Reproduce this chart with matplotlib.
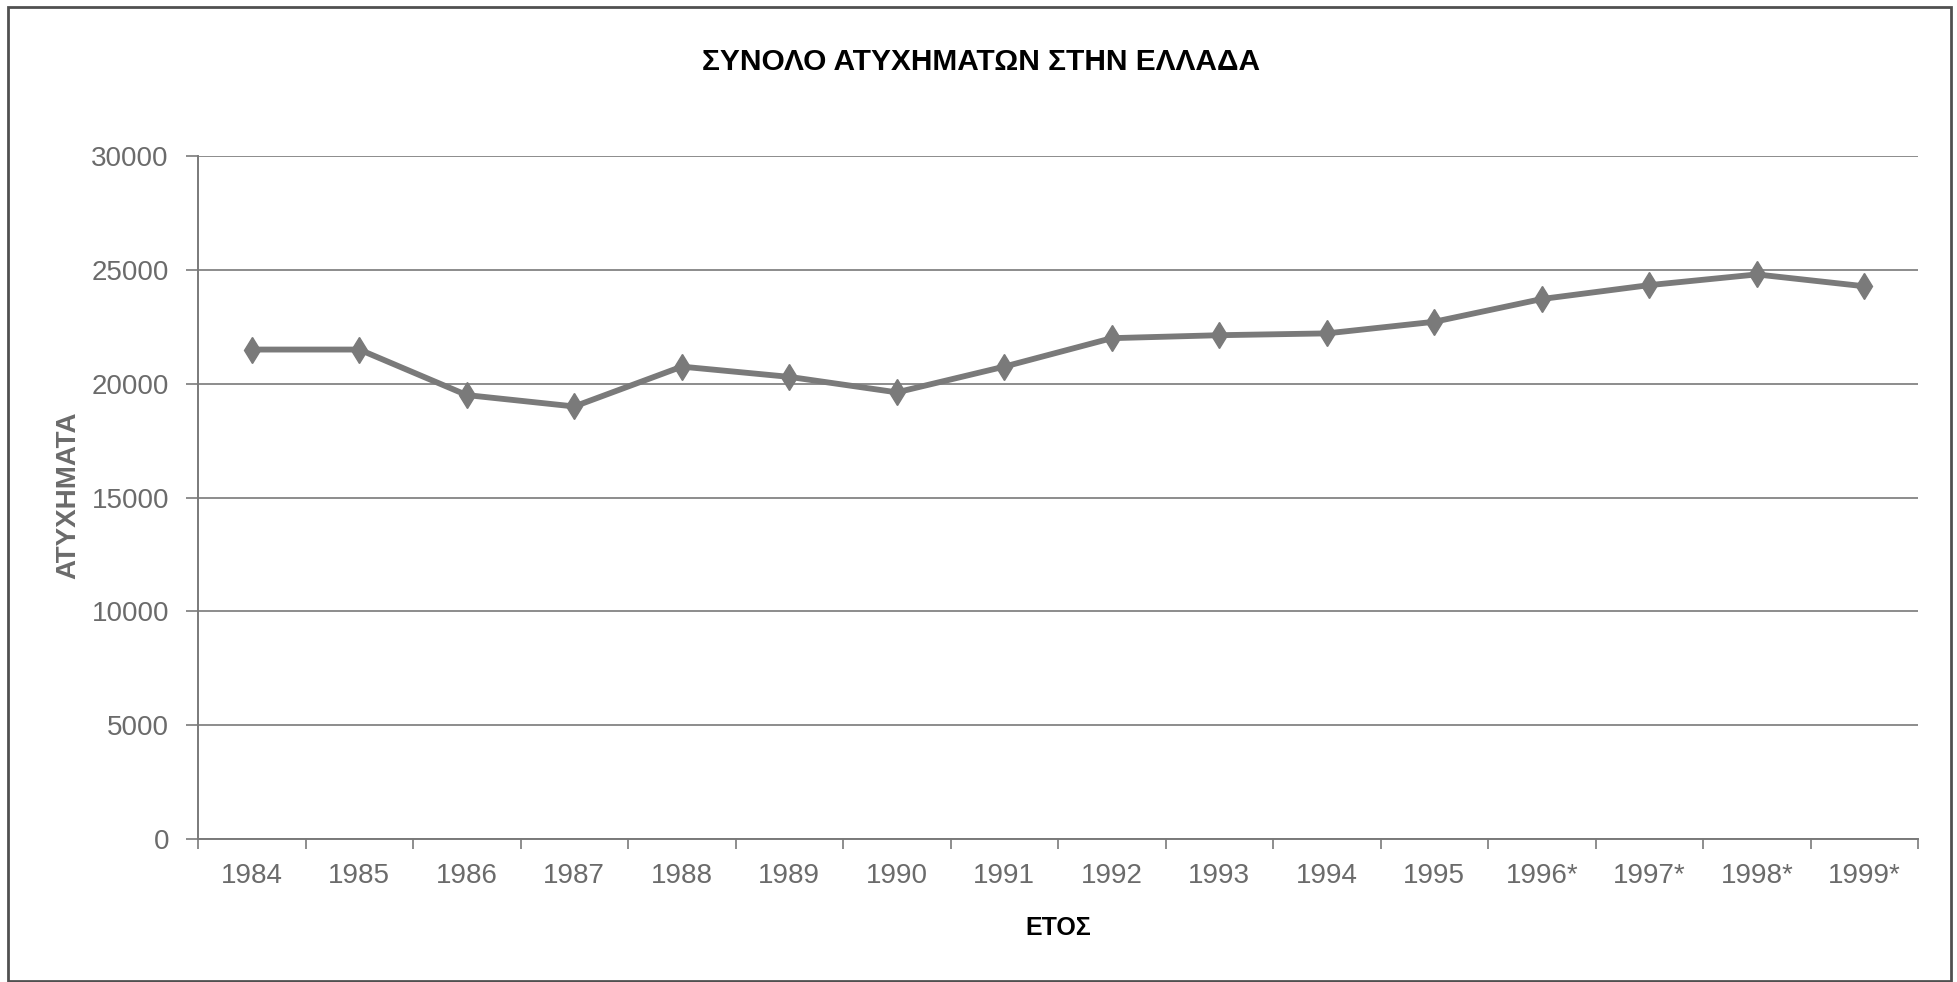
import matplotlib
matplotlib.use('Agg')
import matplotlib.pyplot as plt
from matplotlib.patches import Rectangle

# years on the x axis (the last four are marked with a star)
years = ['1984', '1985', '1986', '1987', '1988', '1989', '1990', '1991',
         '1992', '1993', '1994', '1995', '1996*', '1997*', '1998*', '1999*']
# total accidents per year
accidents = [21500, 21500, 19500, 19000, 20750, 20300, 19620, 20750,
             22000, 22130, 22210, 22720, 23720, 24330, 24800, 24280]
y_ticks = [0, 5000, 10000, 15000, 20000, 25000, 30000]

plt.rcParams['font.family'] = ['Liberation Sans', 'DejaVu Sans']

grey_text = '#6b6b6b'
grey_line = '#7a7a7a'

fig = plt.figure(figsize=(19.57, 9.82), dpi=100)
ax = fig.add_axes([0.1012, 0.1456, 0.9801 - 0.1012, 0.8411 - 0.1456])

# the data line with thin diamond markers
x = list(range(len(years)))
ax.plot(x, accidents, color=grey_line, linewidth=4.2, marker='d',
        markersize=13, markerfacecolor=grey_line, markeredgecolor=grey_line,
        zorder=3)

# y axis like the excel chart
ax.set_ylim(0, 30000)
ax.set_yticks(y_ticks)
ax.set_yticklabels([str(v) for v in y_ticks])
ax.yaxis.grid(True, color='#8c8c8c', linewidth=1.4)
ax.set_axisbelow(True)

# categories sit between the tick marks
ax.set_xlim(-0.5, len(years) - 0.5)
ax.set_xticks([i + 0.5 for i in range(-1, len(years))], minor=False)
ax.set_xticklabels([])
ax.set_xticks(x, minor=True)
ax.set_xticklabels(years, minor=True)
ax.tick_params(axis='x', which='major', length=7, width=1.2, color=grey_line,
               direction='out')
ax.tick_params(axis='x', which='minor', length=0, pad=17, labelsize=20,
               labelcolor=grey_text)
ax.tick_params(axis='y', length=9, width=1.2, color=grey_line, pad=12,
               labelsize=20, labelcolor=grey_text)

for side in ['top', 'right']:
    ax.spines[side].set_visible(False)
for side in ['left', 'bottom']:
    ax.spines[side].set_color(grey_line)
    ax.spines[side].set_linewidth(1.4)

# labels and title
fig.text(981 / 1957, 1 - 62 / 982, 'ΣΥΝΟΛΟ ΑΤΥΧΗΜΑΤΩΝ ΣΤΗΝ ΕΛΛΑΔΑ', ha='center',
         va='center', fontsize=21.5, fontweight='bold', color='black')
fig.text(1058 / 1957, 1 - 928 / 982, 'ΕΤΟΣ', ha='center', va='center',
         fontsize=18, fontweight='bold', color='black')
fig.text(68 / 1957, 1 - 495 / 982, 'ΑΤΥΧΗΜΑΤΑ', ha='center', va='center',
         rotation=90, fontsize=20, fontweight='bold', color=grey_text)

# the outer chart frame
frame = Rectangle((8 / 1957, 1 / 982), (1951 - 8) / 1957, (981 - 7) / 982,
                  transform=fig.transFigure, fill=False, edgecolor='#505050',
                  linewidth=2)
fig.patches.append(frame)

fig.savefig('out.png', dpi=100)
